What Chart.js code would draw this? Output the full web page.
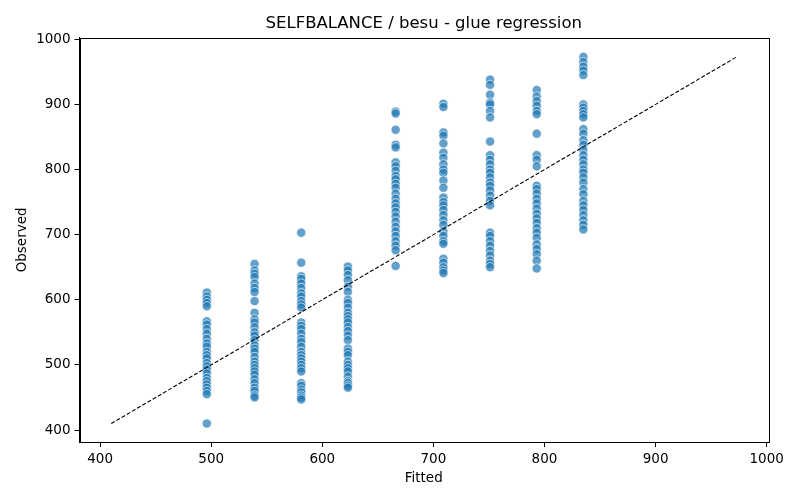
<!DOCTYPE html>
<html>
<head>
    <meta charset="UTF-8" />
    <title>SELFBALANCE / besu - glue regression</title>
    <script src="https://cdn.jsdelivr.net/npm/chart.js"></script>
    <style>
        body { margin: 0; background: #fff; }
    </style>
</head>
<body>
    <canvas id="chart" width="800" height="500"></canvas>
    <script>
        const fittedLevels = [496, 539, 581, 623, 666, 709, 751, 793, 835];
        const obs496 = [611, 605, 600, 595, 590, 567, 562, 555, 548, 540, 533, 528, 520, 515, 510, 503, 498, 493, 487, 480, 475, 470, 465, 460, 455, 410];
        const obs539 = [655, 645, 640, 635, 625, 618, 612, 598, 580, 570, 565, 558, 550, 545, 538, 530, 525, 520, 512, 505, 500, 495, 490, 485, 478, 472, 465, 460, 453, 450];
        const obs581 = [703, 657, 636, 632, 625, 618, 610, 605, 598, 593, 588, 565, 560, 555, 548, 540, 535, 528, 520, 515, 510, 505, 500, 495, 490, 472, 468, 462, 458, 453, 450, 447];
        const obs623 = [651, 645, 638, 630, 620, 612, 600, 595, 588, 580, 575, 570, 565, 558, 552, 545, 538, 525, 520, 515, 505, 500, 495, 490, 482, 475, 472, 468, 465];
        const obs666 = [889, 886, 861, 838, 834, 811, 805, 798, 790, 785, 778, 772, 763, 755, 748, 742, 735, 728, 720, 712, 705, 698, 690, 683, 676, 652];
        const obs709 = [901, 896, 857, 852, 840, 826, 818, 808, 800, 795, 783, 772, 757, 750, 745, 738, 730, 722, 715, 705, 698, 690, 686, 663, 657, 650, 645, 641];
        const obs751 = [938, 930, 915, 903, 900, 890, 880, 843, 822, 815, 808, 800, 795, 788, 780, 775, 768, 760, 752, 745, 703, 698, 690, 683, 675, 668, 660, 655, 650];
        const obs793 = [922, 912, 905, 898, 890, 885, 855, 822, 815, 805, 775, 770, 763, 755, 748, 740, 732, 725, 718, 710, 703, 695, 685, 678, 670, 660, 648];
        const obs835 = [973, 965, 958, 952, 945, 900, 895, 890, 885, 880, 862, 855, 845, 838, 830, 822, 815, 808, 800, 795, 788, 780, 770, 762, 752, 745, 738, 730, 722, 715, 708];
        const observedByColumn = [obs496, obs539, obs581, obs623, obs666, obs709, obs751, obs793, obs835];
        const refLineX = [410, 973];
        const refLineY = [410, 973];
        const xTickVals = [400, 500, 600, 700, 800, 900, 1000];
        const yTickVals = [400, 500, 600, 700, 800, 900, 1000];

        const points = [];
        for (let c = 0; c < fittedLevels.length; c++) {
            for (let v of observedByColumn[c]) {
                points.push({ x: fittedLevels[c], y: v });
            }
        }
        const refLine = refLineX.map((x, i) => ({ x: x, y: refLineY[i] }));

        const font = 'DejaVu Sans';

        // black frame round the plot area
        const frame = {
            id: 'frame',
            afterDatasetsDraw(chart) {
                const a = chart.chartArea;
                const ctx = chart.ctx;
                ctx.save();
                ctx.strokeStyle = '#000';
                ctx.lineWidth = 1;
                ctx.strokeRect(Math.round(a.left) + 0.5, Math.round(a.top) + 0.5,
                    Math.round(a.right - a.left), Math.round(a.bottom - a.top));
                ctx.restore();
            }
        };

        const ctx = document.getElementById('chart');
        new Chart(ctx, {
            type: 'scatter',
            data: {
                datasets: [{
                    type: 'line',
                    data: refLine,
                    borderColor: '#000',
                    borderWidth: 1.1,
                    borderDash: [4, 2],
                    pointRadius: 0,
                    fill: false,
                    order: 0
                }, {
                    data: points,
                    backgroundColor: 'rgba(31,119,180,0.7)',
                    borderColor: 'rgba(255,255,255,0.9)',
                    borderWidth: 0.7,
                    pointRadius: 4.6,
                    order: 1
                }]
            },
            options: {
                responsive: false,
                animation: false,
                devicePixelRatio: 1,
                layout: { padding: { left: 14, right: 32, top: 0, bottom: 13 } },
                plugins: {
                    legend: { display: false },
                    tooltip: { enabled: false },
                    title: {
                        display: true,
                        text: 'SELFBALANCE / besu - glue regression',
                        color: '#000',
                        fullSize: false,
                        font: { family: font, size: 16.5, weight: 'normal' },
                        padding: { top: 14, bottom: 4 }
                    }
                },
                scales: {
                    x: {
                        type: 'linear',
                        min: 381.4,
                        max: 1001.2,
                        afterBuildTicks: (s) => { s.ticks = xTickVals.map(v => ({ value: v })); },
                        afterFit: (s) => { s.height = 45; },
                        grid: { drawOnChartArea: false, drawTicks: true, tickLength: 5, color: '#000' },
                        border: { display: true, color: '#000' },
                        ticks: { color: '#000', padding: 4, maxRotation: 0, callback: (v) => String(v), font: { family: font, size: 13.5 } },
                        title: { display: true, text: 'Fitted', color: '#000', padding: { top: 3, bottom: 0 }, font: { family: font, size: 13.5 } }
                    },
                    y: {
                        type: 'linear',
                        min: 381.6,
                        max: 1002.3,
                        afterBuildTicks: (s) => { s.ticks = yTickVals.map(v => ({ value: v })); },
                        afterFit: (s) => { s.width = 65.5; },
                        grid: { drawOnChartArea: false, drawTicks: true, tickLength: 5, color: '#000' },
                        border: { display: true, color: '#000' },
                        ticks: { color: '#000', padding: 4, callback: (v) => String(v), font: { family: font, size: 13.5 } },
                        title: { display: true, text: 'Observed', color: '#000', padding: { top: 0, bottom: 6 }, font: { family: font, size: 13.5 } }
                    }
                }
            },
            plugins: [frame]
        });
    </script>
</body>
</html>
